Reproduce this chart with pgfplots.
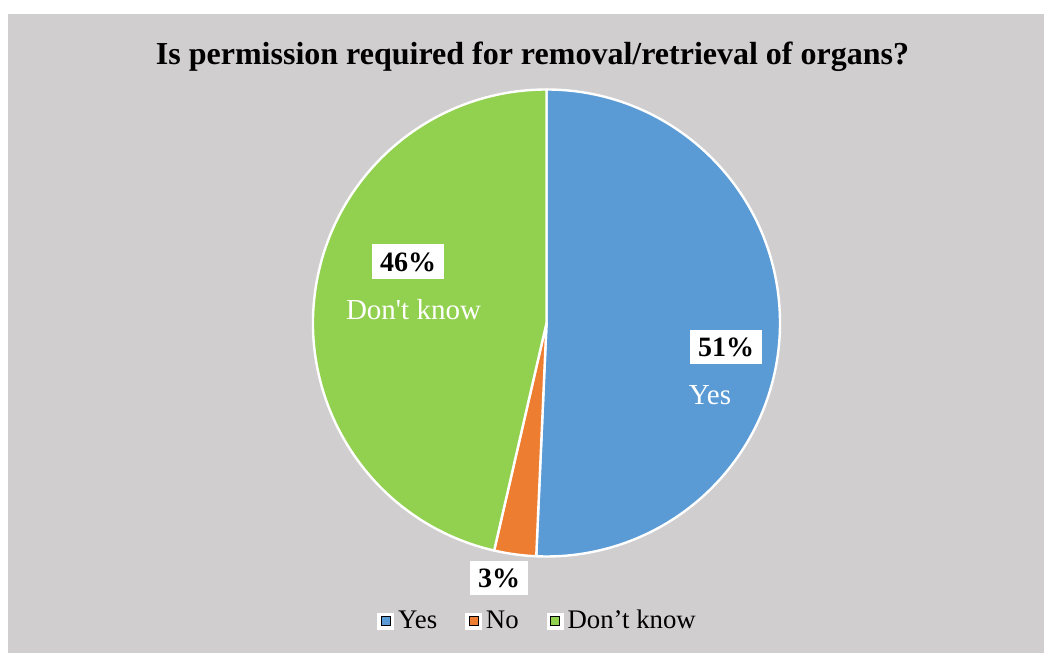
\documentclass[border=0pt]{standalone}
\usepackage{pgfplots}
\pgfplotsset{compat=1.18}
\usepackage{pgfplotstable}
\usepackage{fontspec}
\setmainfont{Liberation Serif}

\definecolor{yescol}{HTML}{5B9BD5}
\definecolor{nocol}{HTML}{ED7D31}
\definecolor{dkcol}{HTML}{92D050}
\definecolor{bgcol}{HTML}{D0CECE}

% share of answers, in percent (labels show them rounded)
\pgfplotstableread{
answer value
Yes 50.7
No 2.9
DontKnow 46.4
}\piedata
\pgfplotstablegetelem{0}{value}\of\piedata\edef\vYes{\pgfplotsretval}
\pgfplotstablegetelem{1}{value}\of\piedata\edef\vNo{\pgfplotsretval}
\pgfplotstablegetelem{2}{value}\of\piedata\edef\vDk{\pgfplotsretval}
\pgfmathsetmacro\aYes{90-3.6*\vYes}
\pgfmathsetmacro\aNo{\aYes-3.6*\vNo}
\pgfmathsetmacro\aDk{\aNo-3.6*\vDk}
\def\rpie{116.75pt}
\newcommand\pct[1]{\pgfmathprintnumber[fixed,precision=0,assume math mode=true]{#1}\%}

\begin{document}
\begin{tikzpicture}
\begin{axis}[
    scale only axis,
    width=522pt, height=326.5pt,
    xmin=0, xmax=1044, ymin=0, ymax=653,
    hide axis, clip=false,
    legend columns=3,
    legend cell align=left,
    legend image code/.code={
      \fill[white] (0pt,-4pt) rectangle (8pt,4pt);
      \fill[#1] (1.75pt,-2.25pt) rectangle (6.25pt,2.25pt);},
    legend style={at={(axis cs:377,32)}, anchor=west,
        draw=none, fill=none, inner sep=0pt,
        font=\fontsize{13.4}{15}\selectfont,
        nodes={inner xsep=2pt},
        /tikz/every even column/.append style={column sep=12pt}},
  ]
  \fill[white] (axis cs:0,0) rectangle (axis cs:1044,653);
  \fill[bgcol] (axis cs:8,0) rectangle (axis cs:1044,639);

  \tikzset{slice/.style={fill=#1, draw=white, line width=1.2pt, line join=round}}
  \path[slice=yescol] (axis cs:546.5,330) -- ++(90:\rpie)
    arc[start angle=90, end angle=\aYes, radius=\rpie] -- cycle;
  \path[slice=nocol] (axis cs:546.5,330) -- ++(\aYes:\rpie)
    arc[start angle=\aYes, end angle=\aNo, radius=\rpie] -- cycle;
  \path[slice=dkcol] (axis cs:546.5,330) -- ++(\aNo:\rpie)
    arc[start angle=\aNo, end angle=\aDk, radius=\rpie] -- cycle;

  \node[font=\bfseries\fontsize{16}{19}\selectfont] at (axis cs:532.5,596)
    {Is permission required for removal/retrieval of organs?};

  \tikzset{lbl/.style={fill=white, font=\bfseries\fontsize{14}{16}\selectfont,
      inner xsep=4pt, inner ysep=4pt}}
  \node[lbl] at (axis cs:726,306) {\pct{\vYes}};
  \node[lbl] at (axis cs:408,391) {\pct{\vDk}};
  \node[lbl] at (axis cs:499,75) {\pct{\vNo}};
  \node[white, font=\fontsize{14.5}{16}\selectfont] at (axis cs:710,258) {Yes};
  \node[white, font=\fontsize{14.5}{16}\selectfont] at (axis cs:413.5,343) {Don\textquotesingle t know};

  \addlegendimage{fill=yescol}
  \addlegendentry{Yes}
  \addlegendimage{fill=nocol}
  \addlegendentry{No}
  \addlegendimage{fill=dkcol}
  \addlegendentry{Don’t know}
\end{axis}
\end{tikzpicture}
\end{document}
